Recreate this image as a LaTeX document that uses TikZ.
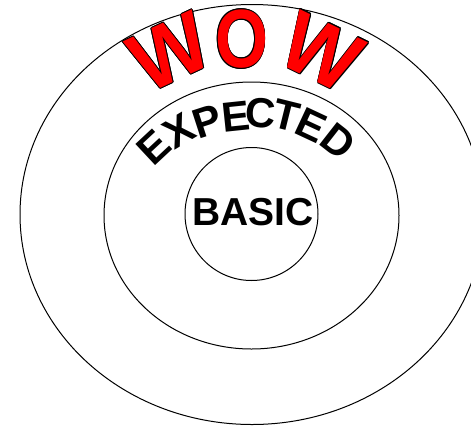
\documentclass[tikz,border=0pt]{standalone}
\usepackage{fontspec}
\setmainfont{Liberation Sans}
\usetikzlibrary{shapes.geometric}
\newcommand\olcopy[3]{\rlap{\kern#1\raisebox{#2}{\color{black}#3}}}
\newcommand\outlined[1]{\leavevmode
  \olcopy{-0.9pt}{0pt}{#1}\olcopy{0.9pt}{0pt}{#1}%
  \olcopy{0pt}{0.9pt}{#1}\olcopy{0pt}{-0.9pt}{#1}%
  \olcopy{-0.65pt}{0.65pt}{#1}\olcopy{0.65pt}{0.65pt}{#1}%
  \olcopy{-0.65pt}{-0.65pt}{#1}\olcopy{0.65pt}{-0.65pt}{#1}%
  {\color{red}#1}}
\tikzset{
  ring/.style={draw=black, line width=1pt, inner sep=0pt},
  wowletter/.style={inner sep=0pt, font=\bfseries\fontsize{81}{81}\selectfont},
  expletter/.style={inner sep=0pt, font=\bfseries\fontsize{42}{42}\selectfont},
  basicword/.style={inner sep=0pt, font=\bfseries\fontsize{39}{39}\selectfont},
}
\begin{document}
\begin{tikzpicture}[x=1pt, y=-1pt]
\useasboundingbox (0,0) rectangle (471,426);
\clip (0,0) rectangle (471,426);
\fill[white] (0,0) rectangle (471,426);
% rings
\node[ring, ellipse, minimum width=464pt, minimum height=420pt] (outer) at (252,214.5) {};
\node[ring, ellipse, minimum width=295pt, minimum height=267pt] (middle) at (251.5,215.5) {};
\node[ring, circle, minimum size=133pt] (inner) at (251.5,214) {};
% WOW
\node[wowletter, rotate=25] (w1) at (170,52) {\outlined{\scalebox{1}[1.04]{W}}};
\node[wowletter] (o) at (241.5,39) {\outlined{\scalebox{0.84}[1.02]{O}}};
\node[wowletter, rotate=-26] (w2) at (322,52) {\outlined{\scalebox{1}[1.04]{W}}};
% EXPECTED
\node[expletter, rotate=43] (e1) at (154,147) {E};
\node[expletter, rotate=31] (x) at (179,131) {X};
\node[expletter, rotate=18] (p) at (207,121) {P};
\node[expletter, rotate=6] (e2) at (236,117) {E};
\node[expletter, rotate=-4] (c) at (261,113) {C};
\node[expletter, rotate=-14] (t) at (286,116) {T};
\node[expletter, rotate=-25] (e3) at (311,125) {E};
\node[expletter, rotate=-38] (d) at (338,141) {D};
% BASIC
\node[basicword] (basic) at (253,212) {BASIC};
\end{tikzpicture}
\end{document}
